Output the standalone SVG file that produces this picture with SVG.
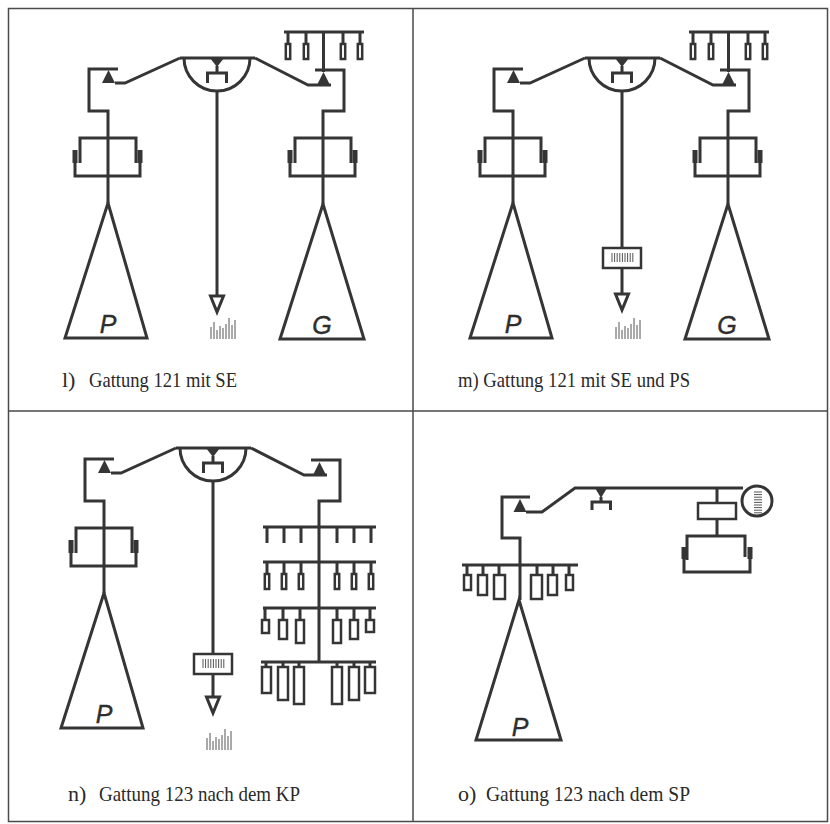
<svg xmlns="http://www.w3.org/2000/svg" xmlns:xlink="http://www.w3.org/1999/xlink" width="830" height="824" viewBox="0 0 830 824">
  <style>
    .ln { fill: none; stroke: #353535; stroke-width: 3; stroke-linejoin: miter; stroke-linecap: butt; }
    .fl { fill: #353535; stroke: none; }
    .tri { fill: #fff; stroke: #353535; stroke-width: 3; stroke-linejoin: miter; }
    .box { fill: #fff; stroke: #353535; stroke-width: 2.5; }
    .thin { stroke: #555; stroke-width: 1; fill: none; }
    .frame { fill: none; stroke: #4a4a4a; stroke-width: 1.5; }
    .lbl { font-family: "Liberation Serif", "Times New Roman", serif; font-size: 22px; fill: #2a2a2a; }
    .let { font-family: "Liberation Sans", Arial, sans-serif; font-style: italic; font-size: 25px; fill: #2e2e2e; stroke: #2e2e2e; stroke-width: 0.4; text-anchor: middle; }
  </style>
  <defs>
    <!-- cylinder / regulator symbol, origin = stem at top edge -->
    <g id="reg">
      <path class="ln" d="M-28,25 V0 H28 V25"/>
      <path class="ln" d="M-33,12 V38 H32 V12"/>
      <rect class="fl" x="-35.5" y="12" width="5" height="13"/>
      <rect class="fl" x="29.5" y="12" width="5" height="13"/>
    </g>
    <!-- distribution head: top bar, half round, inner valve -->
    <g id="head">
      <path class="ln" d="M180,58 H255"/>
      <path class="ln" d="M184,58 A33,33 0 0 0 250,58"/>
      <polygon class="fl" points="210,58 224,58 217,67"/>
      <path class="ln" d="M217,66 V73 M207.5,83 V73 H226.5 V83"/>
    </g>
    <!-- small pendant consumer -->
    <g id="pend">
      <path class="ln" d="M0,0 V12"/>
      <rect class="box" x="-2.2" y="12" width="4.4" height="15"/>
    </g>
    <!-- ground marks below the outlet arrow -->
    <g id="grass" class="thin">
      <path d="M0,0 V-12 M3,0 V-17 M6,0 V-9 M9,0 V-13 M12,0 V-11 M15,0 V-15 M18,0 V-21 M21,0 V-14 M24,0 V-19"/>
    </g>
    <!-- pressure switch box on the outlet line -->
    <g id="psbox">
      <rect class="box" x="-19" y="0" width="38" height="20" stroke-width="3"/>
      <path class="thin" d="M-10,5 V14 M-7.4,5 V14 M-4.8,5 V14 M-2.2,5 V14 M0.4,5 V14 M3,5 V14 M5.6,5 V14 M8.2,5 V14 M10.8,5 V14"/>
    </g>
    <!-- downward outlet arrow, tip 16 below origin -->
    <polygon id="arrow" class="tri" points="-6.5,0 6.5,0 0,16"/>
  </defs>

  <rect width="830" height="824" fill="#fff"/>

  <!-- frame and panel dividers -->
  <g id="frame">
    <rect class="frame" x="8.5" y="8.5" width="819" height="813"/>
    <path class="frame" d="M413,8.5 V821.5 M8.5,411 H827.5"/>
  </g>

  <!-- ============ l) ============ -->
  <g id="panel-l">
    <g id="l-head"><use xlink:href="#head"/></g>
    <g id="l-P">
      <polygon class="tri" points="108,203 65,338 147,338"/>
      <text class="let" x="108" y="333">P</text>
    </g>
    <g id="l-G">
      <polygon class="tri" points="323,204 280,339 364,339"/>
      <text class="let" x="322" y="334">G</text>
    </g>
    <g id="l-reg-left"><use xlink:href="#reg" x="108" y="138"/></g>
    <g id="l-reg-right"><use xlink:href="#reg" x="323" y="138"/></g>
    <g id="l-valve-left"><polygon class="fl" points="102,83 115,83 108.5,70"/></g>
    <g id="l-valve-right"><polygon class="fl" points="317,85 330,85 323.5,72"/></g>
    <g id="l-tree">
      <path class="ln" d="M284,32 H364"/>
      <use xlink:href="#pend" x="288" y="32"/>
      <use xlink:href="#pend" x="306" y="32"/>
      <use xlink:href="#pend" x="343" y="32"/>
      <use xlink:href="#pend" x="360" y="32"/>
    </g>
    <g id="l-outlet">
      <use xlink:href="#arrow" x="217" y="296"/>
      <use xlink:href="#grass" x="211" y="339"/>
    </g>
    <g id="l-connectors">
      <path class="ln" d="M108,203 V111 H89 V69 H118"/>
      <path class="ln" d="M115,83 H125 L180,58 M255,58 L308,85 H331"/>
      <path class="ln" d="M323,204 V111 H344 V70 H315"/>
      <path class="ln" d="M323.5,72 V32"/>
      <path class="ln" d="M217,91 V296"/>
    </g>
  </g>

  <!-- ============ m) ============ -->
  <g id="panel-m">
    <g id="m-head"><use xlink:href="#head" x="405"/></g>
    <g id="m-P">
      <polygon class="tri" points="513,203 470,338 552,338"/>
      <text class="let" x="513" y="333">P</text>
    </g>
    <g id="m-G">
      <polygon class="tri" points="728,204 685,339 769,339"/>
      <text class="let" x="727" y="334">G</text>
    </g>
    <g id="m-reg-left"><use xlink:href="#reg" x="513" y="138"/></g>
    <g id="m-reg-right"><use xlink:href="#reg" x="728" y="138"/></g>
    <g id="m-valve-left"><polygon class="fl" points="507,83 520,83 513.5,70"/></g>
    <g id="m-valve-right"><polygon class="fl" points="722,85 735,85 728.5,72"/></g>
    <g id="m-tree">
      <path class="ln" d="M689,32 H769"/>
      <use xlink:href="#pend" x="693" y="32"/>
      <use xlink:href="#pend" x="711" y="32"/>
      <use xlink:href="#pend" x="748" y="32"/>
      <use xlink:href="#pend" x="765" y="32"/>
    </g>
    <g id="m-ps"><use xlink:href="#psbox" x="622" y="248"/></g>
    <g id="m-outlet">
      <use xlink:href="#arrow" x="622" y="294"/>
      <use xlink:href="#grass" x="616" y="339"/>
    </g>
    <g id="m-connectors">
      <path class="ln" d="M513,203 V111 H494 V69 H523"/>
      <path class="ln" d="M520,83 H530 L585,58 M660,58 L713,85 H736"/>
      <path class="ln" d="M728,204 V111 H749 V70 H720"/>
      <path class="ln" d="M728.5,72 V32"/>
      <path class="ln" d="M622,91 V248 M622,268 V294"/>
    </g>
  </g>

  <!-- ============ n) ============ -->
  <g id="panel-n">
    <g transform="translate(-4,390)">
      <g id="n-head"><use xlink:href="#head"/></g>
      <g id="n-P">
        <polygon class="tri" points="108,203 65,338 147,338"/>
        <text class="let" x="108" y="333">P</text>
      </g>
      <g id="n-reg"><use xlink:href="#reg" x="108" y="138"/></g>
      <g id="n-valve-left"><polygon class="fl" points="102,83 115,83 108.5,70"/></g>
      <g id="n-valve-right"><polygon class="fl" points="317,85 330,85 323.5,72"/></g>
      <g id="n-connectors-top">
        <path class="ln" d="M108,203 V111 H89 V69 H118"/>
        <path class="ln" d="M115,83 H125 L180,58 M255,58 L308,85 H331"/>
        <path class="ln" d="M315,70 H344 V111 H323 V272"/>
      </g>
    </g>
    <g id="n-ps"><use xlink:href="#psbox" x="213" y="654"/></g>
    <g id="n-outlet">
      <use xlink:href="#arrow" x="213" y="697"/>
      <use xlink:href="#grass" x="207" y="750"/>
    </g>
    <g id="n-connectors">
      <path class="ln" d="M213,481 V654 M213,674 V697"/>
    </g>
    <g id="n-tree">
      <path class="ln" d="M263,527 H376 M263,562 H376 M263,608 H376 M261,662 H376"/>
      <path class="ln" d="M267,527 V543 M284,527 V543 M301,527 V543 M337,527 V543 M354,527 V543 M371,527 V543"/>
      <use xlink:href="#pend" x="267" y="562"/>
      <use xlink:href="#pend" x="284" y="562"/>
      <use xlink:href="#pend" x="301" y="562"/>
      <use xlink:href="#pend" x="337" y="562"/>
      <use xlink:href="#pend" x="354" y="562"/>
      <use xlink:href="#pend" x="371" y="562"/>
      <path class="ln" d="M265,608 V620 M283,608 V620 M300,608 V620 M337,608 V620 M354,608 V620 M370,608 V620"/>
      <rect class="box" x="262" y="620" width="7" height="13"/>
      <rect class="box" x="279" y="620" width="8" height="19"/>
      <rect class="box" x="296" y="620" width="8" height="23"/>
      <rect class="box" x="333" y="620" width="8" height="23"/>
      <rect class="box" x="350" y="620" width="8" height="19"/>
      <rect class="box" x="366" y="620" width="8" height="12"/>
      <path class="ln" d="M266,662 V667 M283,662 V667 M299,662 V667 M337,662 V667 M354,662 V667 M370,662 V667"/>
      <rect class="box" x="262" y="667" width="9" height="26"/>
      <rect class="box" x="278" y="667" width="10" height="33"/>
      <rect class="box" x="294" y="667" width="10" height="37"/>
      <rect class="box" x="332" y="667" width="10" height="37"/>
      <rect class="box" x="349" y="667" width="10" height="33"/>
      <rect class="box" x="365" y="667" width="10" height="26"/>
    </g>
  </g>

  <!-- ============ o) ============ -->
  <g id="panel-o">
    <g id="o-P">
      <polygon class="tri" points="519,600 476,740 561,740"/>
      <text class="let" x="520" y="736">P</text>
    </g>
    <g id="o-valve-left"><polygon class="fl" points="513.5,512 526.5,512 520,499"/></g>
    <g id="o-valve-mid">
      <polygon class="fl" points="595,488 607,488 601,498"/>
      <path class="ln" d="M601,497 V502 M592,510 V502 H610.5 V510"/>
    </g>
    <g id="o-gauge">
      <circle class="tri" cx="757" cy="501" r="15"/>
      <path class="thin" d="M754,492 H762 M754,494.6 H762 M754,497.2 H762 M754,499.8 H762 M754,502.4 H762 M754,505 H762 M754,507.6 H762 M754,510.2 H762 M754,512.8 H762"/>
    </g>
    <g id="o-box"><rect class="box" x="698" y="503" width="38" height="16" stroke-width="3"/></g>
    <g id="o-reg">
      <path class="ln" d="M687,560 V536 H745 V557"/>
      <path class="ln" d="M684,547 V572 H750 V547"/>
      <rect class="fl" x="681.5" y="547" width="5" height="12"/>
      <rect class="fl" x="747.5" y="547" width="5" height="12"/>
    </g>
    <g id="o-tree">
      <path class="ln" d="M462,565 H578"/>
      <path class="ln" d="M467,565 V575 M483,565 V575 M499,565 V575 M537,565 V575 M553,565 V575 M569,565 V575"/>
      <rect class="box" x="464" y="575" width="7" height="15"/>
      <rect class="box" x="478" y="575" width="9" height="20"/>
      <rect class="box" x="494" y="575" width="11" height="24"/>
      <rect class="box" x="531" y="575" width="11" height="24"/>
      <rect class="box" x="548" y="575" width="9" height="20"/>
      <rect class="box" x="566" y="575" width="7" height="15"/>
    </g>
    <g id="o-connectors">
      <path class="ln" d="M530,497 H502 V538 H520 V600"/>
      <path class="ln" d="M526,512 H542 L575,488 H743"/>
      <path class="ln" d="M717,488 V503 M717,519 V536"/>
    </g>
  </g>

  <!-- captions -->
  <g id="captions">
    <text class="lbl" x="62" y="387">l)</text>
    <text class="lbl" x="89" y="387" textLength="148" lengthAdjust="spacingAndGlyphs">Gattung 121 mit SE</text>
    <text class="lbl" x="458" y="387" textLength="232" lengthAdjust="spacingAndGlyphs">m) Gattung 121 mit SE und PS</text>
    <text class="lbl" x="68" y="801">n)</text>
    <text class="lbl" x="99" y="801" textLength="201" lengthAdjust="spacingAndGlyphs">Gattung 123 nach dem KP</text>
    <text class="lbl" x="458" y="801">o)</text>
    <text class="lbl" x="486" y="801" textLength="204" lengthAdjust="spacingAndGlyphs">Gattung 123 nach dem SP</text>
  </g>
</svg>
